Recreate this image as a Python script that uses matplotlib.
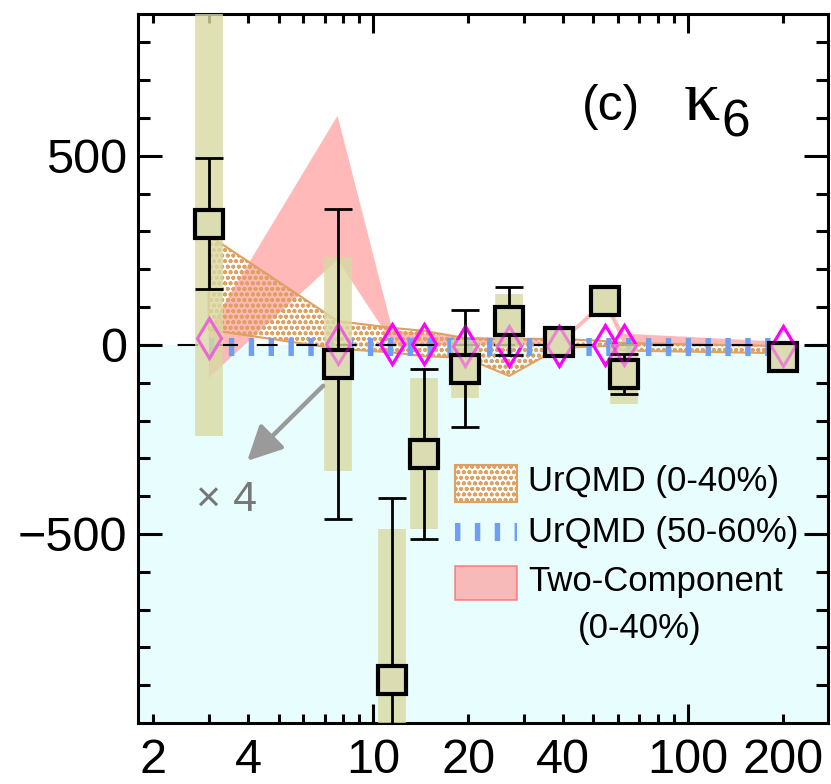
import numpy as np
import matplotlib
matplotlib.use("Agg")
import matplotlib.pyplot as plt
from matplotlib.patches import Rectangle
from matplotlib.lines import Line2D

plt.rcParams['font.family'] = ['Liberation Sans', 'DejaVu Sans']
plt.rcParams['hatch.linewidth'] = 1.2

# collision energies
energies = [3.0, 7.7, 11.5, 14.5, 19.6, 27.0, 39.0, 54.4, 62.4, 200.0]

# measured kappa_6 (0-40%)
kappa6 = [320, -50, -886, -288, -63, 63, 8, 116, -77, -32]
stat_err = [173, 410, 480, 225, 155, 90, 20, 12, 52, 10]
sys_err = [560, 283, 400, 200, 77, 72, 15, 10, 80, 10]

# open diamonds
diamond_vals = [18, 3, 3, 3, -3, -3, -3, 0, 0, -3]

# UrQMD (0-40%) band
urqmd_lo = [40, -10, -20, -30, -34, -82, -8, -3, -15, -22]
urqmd_hi = [290, 63, 45, 37, 18, 16, 16, 10, 5, -3]

# UrQMD (50-60%)
urqmd_periph = [-5, -5, -5, -5, -5, -5, -5, -5, -5, -5]

# Two-Component (0-40%) band
tc_lo = [-87, 225, 5, 0, 0, 0, 0, 105, 0, -5]
tc_hi = [40, 606, 40, 30, 20, 15, 10, 122, 30, 8]

khaki = (0.85, 0.85, 0.64, 0.8)
khaki_solid = '#dcdcb3'
tan = '#dfa060'
pink = '#ff9c9c'
blue = '#6f9ff5'
magenta = '#ff00ff'

fig = plt.figure(figsize=(8.31, 7.84), dpi=100)
ax = fig.add_axes([0.1661, 0.0778, 0.8303, 0.9043])
ax.set_xscale('log')
ax.set_xlim(1.79, 278)
ax.set_ylim(-1000, 875)

ax.axhspan(-1000, 0, color='#e8fdfd', lw=0, zorder=0)

ax.fill_between(energies, tc_lo, tc_hi, facecolor=pink, alpha=0.7,
                edgecolor='none', zorder=1.5)
ax.fill_between(energies, urqmd_lo, urqmd_hi, facecolor='none',
                edgecolor=tan, hatch='ooo', lw=1.5, zorder=2)
ax.plot(energies, urqmd_periph, color=blue, lw=13, ls=(0, (0.3, 0.8)),
        dash_capstyle='butt', zorder=2.5)
ax.axhline(0, color='black', lw=1.5, dashes=(10, 9), zorder=2.6)

ax.plot(energies, diamond_vals, 'd', ms=20, mfc='none', mec=magenta,
        mew=2.2, zorder=3)

ax.errorbar(energies, kappa6, yerr=sys_err, fmt='none', ecolor=khaki,
            elinewidth=20, capsize=0, zorder=4)
ax.errorbar(energies, kappa6, yerr=stat_err, fmt='none', ecolor='black',
            elinewidth=2, capsize=10, capthick=2, zorder=5)
ax.plot(energies, kappa6, 's', ms=20, mfc=khaki_solid, mec='black', mew=3,
        zorder=6)
# diamonds seen faintly through the filled squares
ax.plot(energies, diamond_vals, 'd', ms=20, mfc='none', mec=magenta,
        mew=2.2, alpha=0.4, zorder=6.5)

ax.annotate('', xy=(3.92, -312), xytext=(7.03, -103),
            arrowprops=dict(arrowstyle='-|>,head_length=0.7,head_width=0.35',
                            color='#9a9a9a', lw=3.2, mutation_scale=30),
            zorder=7)
ax.text(3.41, -410, '× 4', color='#777777', fontsize=31,
        ha='center', va='center')

ax.text(0.643, 0.869, '(c)', transform=ax.transAxes, fontsize=36,
        ha='left', va='center')
ax.text(0.791, 0.8505, 'κ', transform=ax.transAxes, fontsize=52,
        family='Liberation Serif', ha='left', va='baseline')
ax.text(0.845, 0.846, '6', transform=ax.transAxes, fontsize=37,
        ha='left', va='center')

# legend
ax.add_patch(Rectangle((0.459, 0.312), 0.09, 0.052, transform=ax.transAxes,
                       facecolor='white', edgecolor=tan, hatch='ooo',
                       lw=1.5, zorder=8))
ax.add_line(Line2D([0.459, 0.549], [0.269, 0.269], transform=ax.transAxes,
                   color=blue, lw=13, ls=(0, (0.3, 0.8)),
                   dash_capstyle='butt', zorder=8))
ax.add_patch(Rectangle((0.459, 0.173), 0.09, 0.049, transform=ax.transAxes,
                       facecolor=pink, alpha=0.7, edgecolor='#ff6060',
                       lw=1.2, zorder=8))
leg_size = 25
ax.text(0.565, 0.340, 'UrQMD (0-40%)', transform=ax.transAxes,
        fontsize=leg_size, ha='left', va='center')
ax.text(0.565, 0.269, 'UrQMD (50-60%)', transform=ax.transAxes,
        fontsize=leg_size, ha='left', va='center')
ax.text(0.565, 0.199, 'Two-Component', transform=ax.transAxes,
        fontsize=leg_size, ha='left', va='center')
ax.text(0.7275, 0.134, '(0-40%)', transform=ax.transAxes,
        fontsize=leg_size, ha='center', va='center')

# ticks
ax.set_xticks([10, 100], labels=['10', '100'])
minor_x = [2, 3, 4, 5, 6, 7, 8, 9, 20, 30, 40, 50, 60, 70, 80, 90, 200]
minor_lab = ['2', '', '4', '', '', '', '', '', '20', '', '40', '', '', '',
             '', '', '200']
ax.set_xticks(minor_x, labels=minor_lab, minor=True)
ax.set_yticks([-500, 0, 500], labels=['\u2212500', '0', '500'])
ax.set_yticks(np.arange(-900, 900, 100), minor=True)

ax.tick_params(which='both', direction='in', top=True, right=True,
               width=2.2, labelsize=35)
ax.tick_params(axis='x', which='major', length=14, pad=11)
ax.tick_params(axis='x', which='minor', length=6.5, pad=11)
ax.tick_params(axis='y', which='major', length=17, pad=8)
ax.tick_params(axis='y', which='minor', length=8.5)
for s in ax.spines.values():
    s.set_linewidth(2.2)

fig.savefig('out.png', dpi=100)
